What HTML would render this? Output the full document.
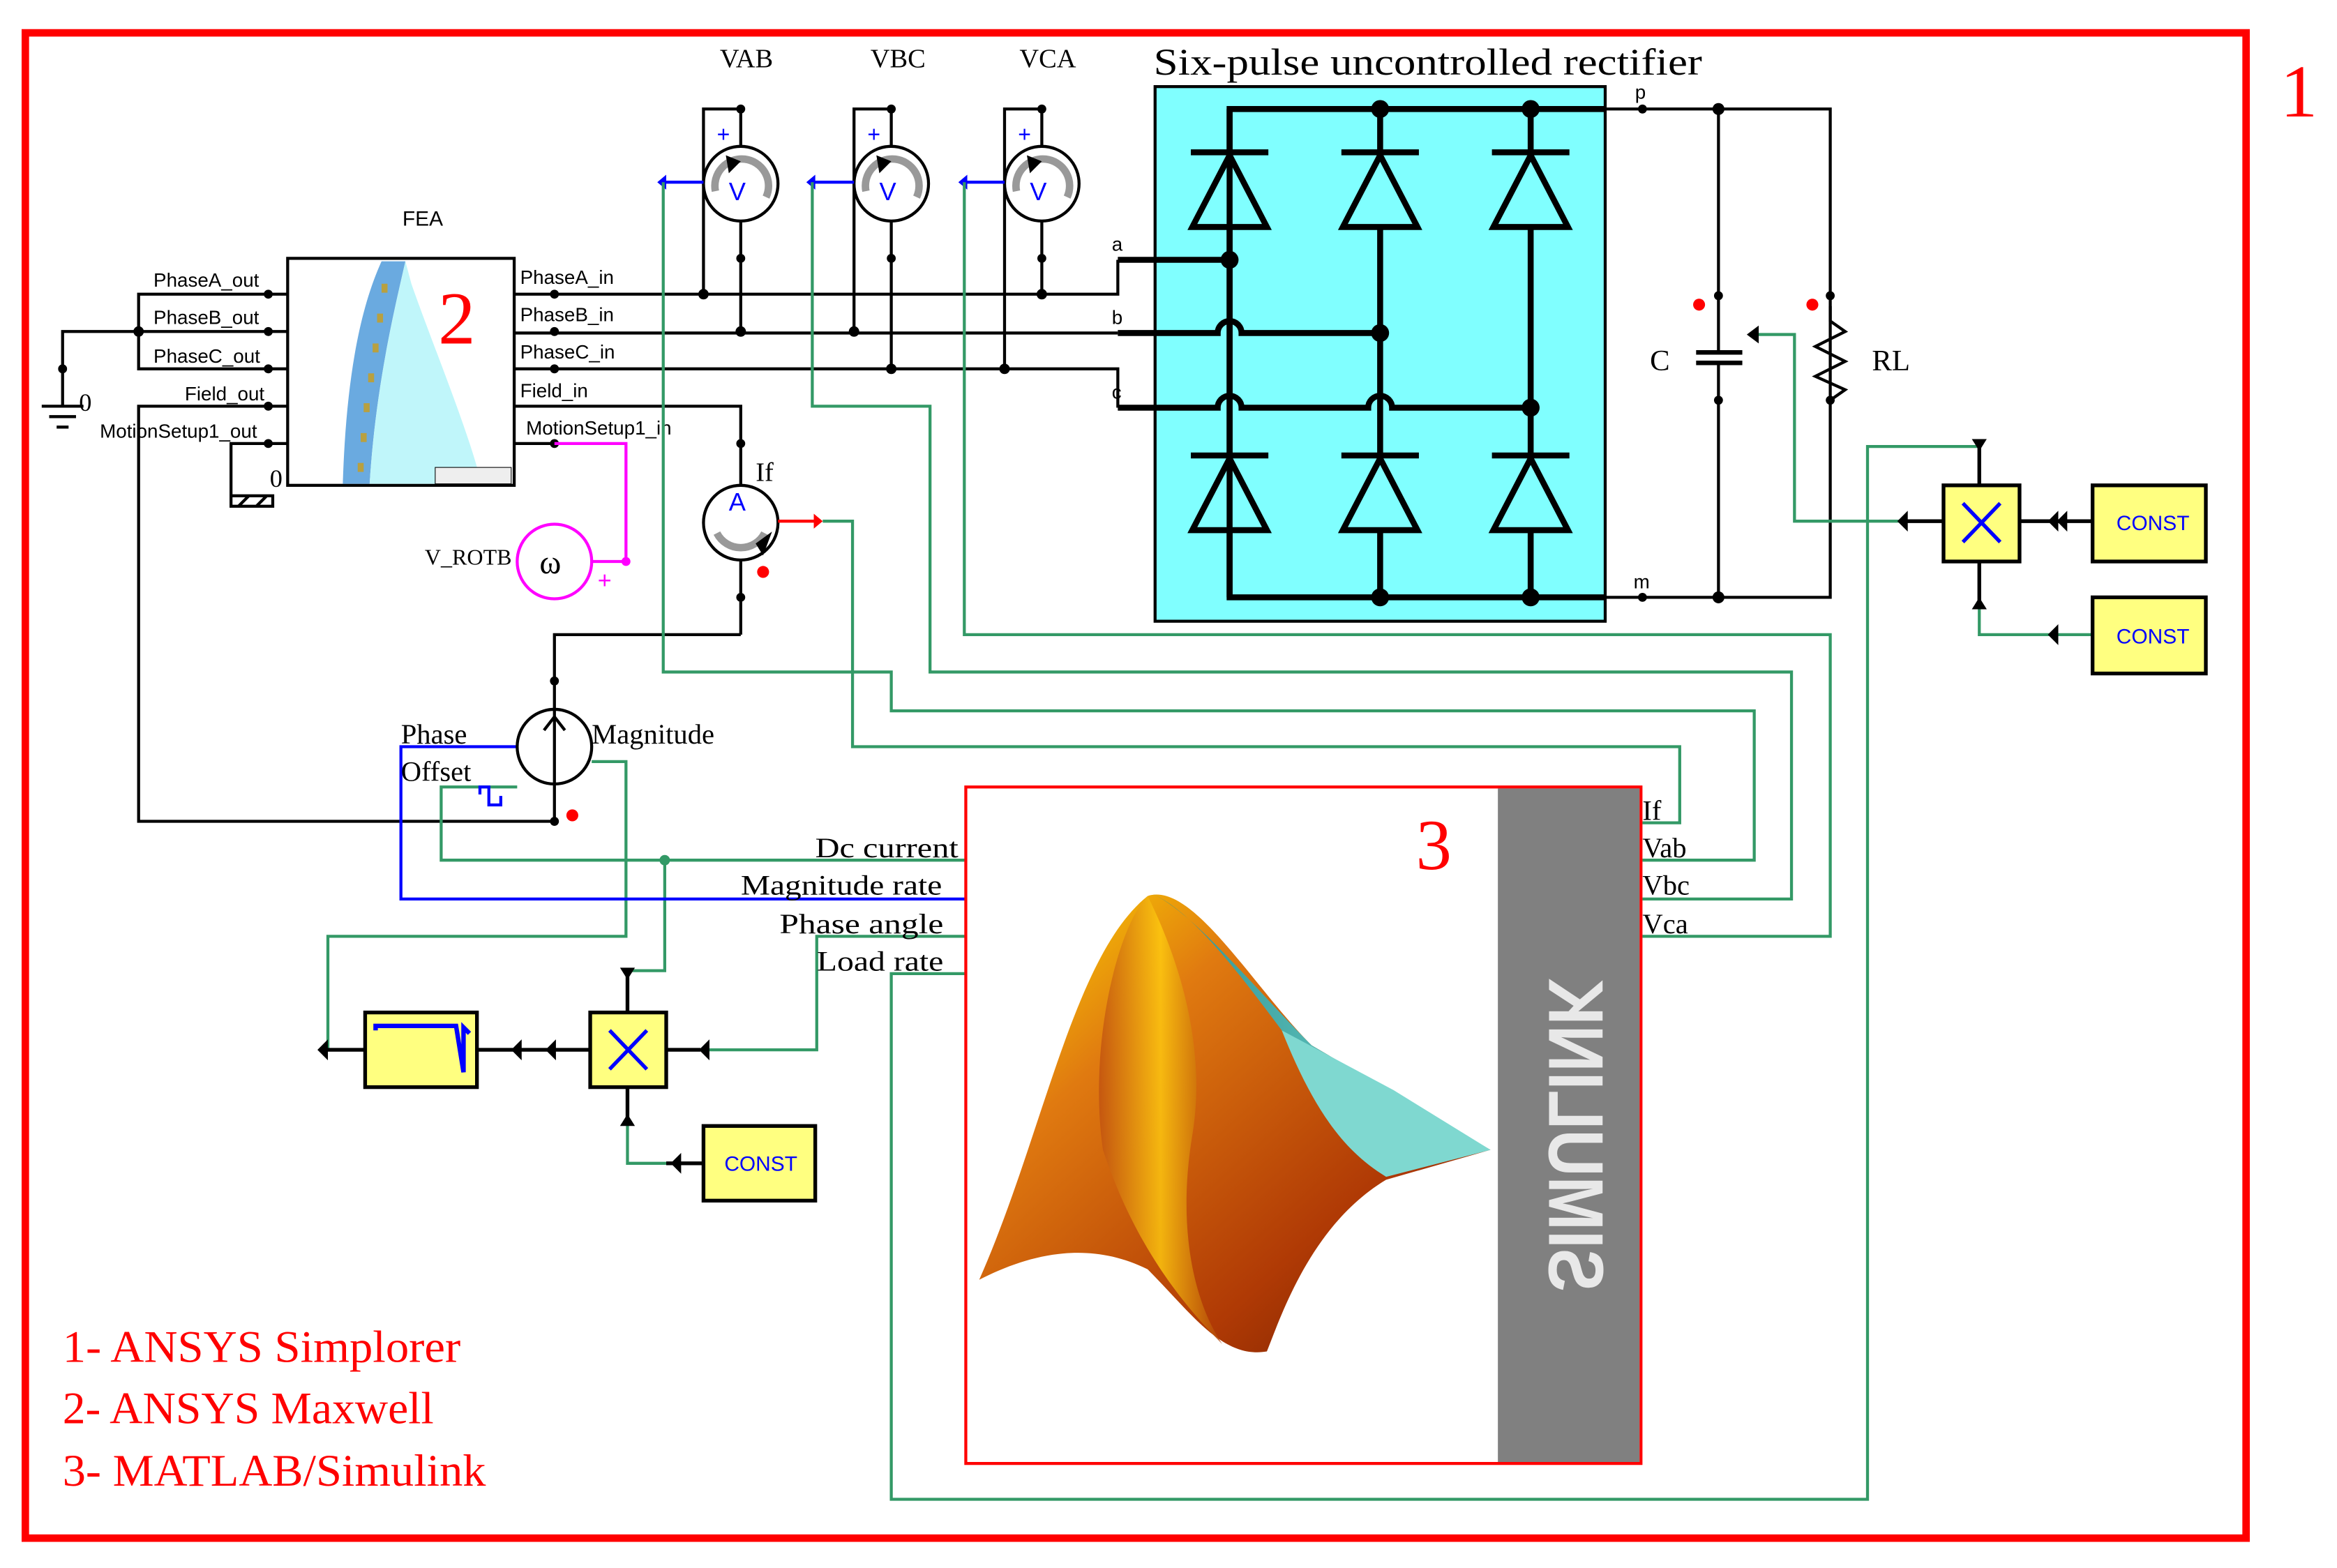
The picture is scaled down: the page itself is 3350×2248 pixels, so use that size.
<!DOCTYPE html>
<html><head><meta charset="utf-8"><style>
html,body{margin:0;padding:0;background:#fff;}
svg{display:block}
.s{font-family:"Liberation Serif",serif}
.a{font-family:"Liberation Sans",sans-serif}
</style></head><body>
<svg width="3350" height="2248" viewBox="0 0 1568 1050" preserveAspectRatio="none" xmlns="http://www.w3.org/2000/svg">
<defs>
<linearGradient id="mg" x1="0" y1="0" x2="1" y2="1">
<stop offset="0" stop-color="#ffe000"/><stop offset="0.3" stop-color="#e07a10"/><stop offset="0.7" stop-color="#b03a05"/><stop offset="1" stop-color="#6a1a00"/>
</linearGradient>
<linearGradient id="mg2" x1="0" y1="0" x2="1" y2="0">
<stop offset="0" stop-color="#c05010"/><stop offset="0.5" stop-color="#ffcc10"/><stop offset="1" stop-color="#b04008"/>
</linearGradient>
<linearGradient id="tg" x1="0" y1="0" x2="1" y2="0">
<stop offset="0" stop-color="#2a8f8f"/><stop offset="1" stop-color="#7fe0d8"/>
</linearGradient>
</defs>
<rect width="1568" height="1050" fill="#fff"/>
<rect x="17" y="22" width="1490" height="1008" fill="none" stroke="#ff0000" stroke-width="5"/>
<text x="1530" y="78" class="s" font-size="50" fill="#ff0000">1</text>

<!-- rectifier -->
<rect x="775" y="58" width="302" height="358" fill="#80ffff" stroke="#000" stroke-width="2"/>
<text x="774" y="50" class="s" font-size="25" textLength="368" lengthAdjust="spacingAndGlyphs">Six-pulse uncontrolled rectifier</text>
<g stroke="#000" stroke-width="4" fill="none">
<polyline points="1077,73 825,73 825,400 1077,400"/>
<line x1="926" y1="73" x2="926" y2="400"/>
<line x1="1027" y1="73" x2="1027" y2="400"/>
<line x1="750" y1="174" x2="825" y2="174"/>
<path d="M750,223 H817 a8,8 0 0 1 16,0 H926"/>
<path d="M750,273 H817 a8,8 0 0 1 16,0 H918 a8,8 0 0 1 16,0 H1027"/>
<g id="d">
<line x1="799" y1="102" x2="851" y2="102"/>
<polygon points="825,104 800,152 850,152" fill="#80ffff"/>
</g>
<use href="#d" x="101"/><use href="#d" x="202"/>
<use href="#d" y="203"/><use href="#d" x="101" y="203"/><use href="#d" x="202" y="203"/>
</g>
<polyline points="1077,73 1228,73 1228,400 1077,400" fill="none" stroke="#000" stroke-width="2"/>
<line x1="825" y1="73" x2="825" y2="400" stroke="#000" stroke-width="4"/>
<g fill="#000">
<circle cx="926" cy="73" r="6"/><circle cx="1027" cy="73" r="6"/><circle cx="926" cy="400" r="6"/><circle cx="1027" cy="400" r="6"/>
<circle cx="825" cy="174" r="6"/><circle cx="926" cy="223" r="6"/><circle cx="1027" cy="273" r="6"/>
<circle cx="1153" cy="73" r="4"/><circle cx="1153" cy="400" r="4"/><circle cx="1102" cy="73" r="3"/><circle cx="1102" cy="400" r="3"/>
<circle cx="1153" cy="198" r="3"/><circle cx="1153" cy="268" r="3"/><circle cx="1228" cy="198" r="3"/><circle cx="1228" cy="268" r="3"/>
</g>
<text x="1097" y="66" class="a" font-size="13">p</text>
<text x="1096" y="394" class="a" font-size="13">m</text>
<text x="746" y="168" class="a" font-size="13">a</text>
<text x="746" y="217" class="a" font-size="13">b</text>
<text x="746" y="267" class="a" font-size="13">c</text>
<!-- capacitor & resistor -->
<g stroke="#000" stroke-width="2" fill="none">
<line x1="1153" y1="73" x2="1153" y2="236"/><line x1="1153" y1="243" x2="1153" y2="400"/>
<line x1="1138" y1="236" x2="1169" y2="236" stroke-width="3"/><line x1="1138" y1="243" x2="1169" y2="243" stroke-width="3"/>
<polyline points="1228,205 1228,215 1238,222 1218,232 1238,242 1218,252 1238,261 1228,268"/>
</g>
<circle cx="1140" cy="204" r="4" fill="#f00"/><circle cx="1216" cy="204" r="4" fill="#f00"/>
<text x="1107" y="248" class="s" font-size="20">C</text>
<text x="1256" y="248" class="s" font-size="20">RL</text>

<!-- phase lines -->
<g stroke="#000" stroke-width="2" fill="none">
<polyline points="345,197 750,197 750,174"/>
<line x1="345" y1="223" x2="750" y2="223"/>
<polyline points="345,247 750,247 750,273"/>
<polyline points="345,272 497,272 497,325"/>
<line x1="497" y1="375" x2="497" y2="425"/>
<polyline points="497,425 372,425 372,475"/>
<line x1="372" y1="525" x2="372" y2="550"/>
<polyline points="193,272 93,272 93,550 372,550"/>
<polyline points="193,197 93,197 93,247 193,247"/>
<line x1="93" y1="222" x2="193" y2="222"/>
<polyline points="93,222 42,222 42,272"/>
<line x1="28" y1="272" x2="56" y2="272"/><line x1="33" y1="279" x2="51" y2="279"/><line x1="38" y1="286" x2="46" y2="286"/>
<polyline points="193,297 155,297 155,332"/>
<rect x="155" y="332" width="28" height="7"/>
<line x1="160" y1="339" x2="167" y2="332"/><line x1="172" y1="339" x2="179" y2="332"/>
<line x1="345" y1="297" x2="372" y2="297"/>
<polyline points="472,197 472,73 497,73 497,98"/><line x1="497" y1="148" x2="497" y2="222"/>
<polyline points="573,222 573,73 598,73 598,98"/><line x1="598" y1="148" x2="598" y2="247"/>
<polyline points="674,247 674,73 699,73 699,98"/><line x1="699" y1="148" x2="699" y2="197"/>
</g>
<g fill="#000">
<circle cx="93" cy="222" r="3.5"/><circle cx="42" cy="247" r="3"/>
<circle cx="180" cy="197" r="3"/><circle cx="180" cy="222" r="3"/><circle cx="180" cy="247" r="3"/><circle cx="180" cy="272" r="3"/><circle cx="180" cy="297" r="3"/>
<circle cx="372" cy="197" r="3"/><circle cx="372" cy="222" r="3"/><circle cx="372" cy="247" r="3"/><circle cx="372" cy="297" r="3"/>
<circle cx="472" cy="197" r="3.5"/><circle cx="497" cy="222" r="3.5"/><circle cx="573" cy="222" r="3.5"/><circle cx="598" cy="247" r="3.5"/><circle cx="674" cy="247" r="3.5"/><circle cx="699" cy="197" r="3.5"/>
<circle cx="497" cy="73" r="3"/><circle cx="598" cy="73" r="3"/><circle cx="699" cy="73" r="3"/>
<circle cx="497" cy="173" r="3"/><circle cx="598" cy="173" r="3"/><circle cx="699" cy="173" r="3"/>
<circle cx="497" cy="297" r="3"/><circle cx="497" cy="400" r="3"/><circle cx="372" cy="456" r="3"/><circle cx="372" cy="550" r="3"/>
</g>
<text x="53" y="275" class="s" font-size="17">0</text>
<text x="181" y="326" class="s" font-size="17">0</text>

<!-- FEA block -->
<text x="270" y="151" class="a" font-size="14">FEA</text>
<rect x="193" y="173" width="152" height="152" fill="#fff" stroke="#000" stroke-width="2"/>
<path d="M256,175 L272,175 C264,210 252,260 248,324 L230,324 C232,260 240,210 256,175Z" fill="#6aaae0"/>
<path d="M272,175 L276,190 C290,230 315,290 323,324 L248,324 C252,260 264,210 272,175Z" fill="#c0f6fa"/>
<g fill="#b8a040"><rect x="256" y="190" width="4" height="6"/><rect x="253" y="210" width="4" height="6"/><rect x="250" y="230" width="4" height="6"/><rect x="247" y="250" width="4" height="6"/><rect x="244" y="270" width="4" height="6"/><rect x="242" y="290" width="4" height="6"/><rect x="240" y="310" width="4" height="6"/></g>
<text x="294" y="230" class="s" font-size="50" fill="#ff0000">2</text>
<rect x="292" y="313" width="51" height="11" fill="#eee" stroke="#000" stroke-width="0.5"/>
<g class="a" font-size="13">
<text x="103" y="192">PhaseA_out</text><text x="103" y="217">PhaseB_out</text><text x="103" y="243">PhaseC_out</text>
<text x="124" y="268">Field_out</text><text x="67" y="293">MotionSetup1_out</text>
<text x="349" y="190">PhaseA_in</text><text x="349" y="215">PhaseB_in</text><text x="349" y="240">PhaseC_in</text>
<text x="349" y="266">Field_in</text><text x="353" y="291">MotionSetup1_in</text>
</g>
<!-- V_ROTB -->
<polyline points="372,297 420,297 420,376 397,376" fill="none" stroke="#ff00ff" stroke-width="2"/>
<circle cx="420" cy="376" r="3" fill="#ff00ff"/>
<circle cx="372" cy="376" r="25" fill="#fff" stroke="#ff00ff" stroke-width="2"/>
<text x="362" y="384" class="s" font-size="22">ω</text>
<text x="401" y="394" class="a" font-size="16" fill="#ff00ff">+</text>
<text x="285" y="378" class="s" font-size="15">V_ROTB</text>

<!-- meters -->
<g id="vm">
<circle cx="497" cy="123" r="25" fill="#fff" stroke="#000" stroke-width="2"/>
<path d="M480,128 A18,18 0 1 1 514,132" fill="none" stroke="#999" stroke-width="5"/>
<polygon points="487,104 497,108 489,116" fill="#000"/>
<text x="489" y="134" class="a" font-size="17" fill="#00f">V</text>
<text x="481" y="95" class="a" font-size="15" fill="#00f">+</text>
</g>
<use href="#vm" x="101"/><use href="#vm" x="202"/>
<g stroke="#00f" stroke-width="2"><line x1="445" y1="122" x2="472" y2="122"/><line x1="545" y1="122" x2="573" y2="122"/><line x1="647" y1="122" x2="674" y2="122"/></g>
<g fill="#00f"><polygon points="441,122 447,117 447,127"/><polygon points="541,122 547,117 547,127"/><polygon points="643,122 649,117 649,127"/></g>
<text x="483" y="45" class="s" font-size="18">VAB</text><text x="584" y="45" class="s" font-size="18">VBC</text><text x="684" y="45" class="s" font-size="18">VCA</text>
<!-- ammeter -->
<circle cx="497" cy="350" r="25" fill="#fff" stroke="#000" stroke-width="2"/>
<path d="M481,357 A18,18 0 0 0 513,357" fill="none" stroke="#999" stroke-width="5"/>
<polygon points="507,364 518,356 512,372" fill="#000"/>
<text x="489" y="342" class="a" font-size="17" fill="#00f">A</text>
<text x="507" y="322" class="s" font-size="18">If</text>
<circle cx="512" cy="383" r="4" fill="#f00"/>
<line x1="522" y1="349" x2="550" y2="349" stroke="#f00" stroke-width="2"/>
<polygon points="552,349 546,344 546,354" fill="#f00"/>

<!-- green wires -->
<g stroke="#339966" stroke-width="2" fill="none">
<polyline points="445,122 445,450 598,450 598,476 1177,476 1177,576 1102,576"/>
<polyline points="545,122 545,272 624,272 624,450 1202,450 1202,602 1102,602"/>
<polyline points="647,122 647,425 1228,425 1228,627 1102,627"/>
<polyline points="552,349 572,349 572,500 1127,500 1127,551 1102,551"/>
<polyline points="648,576 296,576 296,527 347,527"/>
<polyline points="446,576 446,650 421,650"/>
<polyline points="397,510 420,510 420,627 220,627 220,703"/>
<polyline points="648,627 548,627 548,703 470,703"/>
<polyline points="648,652 598,652 598,1004 1253,1004 1253,299 1328,299"/>
<polyline points="1304,349 1204,349 1204,224 1178,224"/>
<polyline points="1404,425 1328,425 1328,402"/>
<polyline points="1404,349 1378,349"/>
<line x1="345" y1="703" x2="370" y2="703"/>
<polyline points="421,752 421,779 472,779"/>
</g>
<circle cx="446" cy="576" r="3.5" fill="#339966"/>
<polyline points="648,602 269,602 269,500 347,500" fill="none" stroke="#0000ff" stroke-width="2"/>
<path d="M322,532 v-5 h6 v12 h8 v-6" fill="none" stroke="#00f" stroke-width="2"/>
<!-- current source -->
<circle cx="372" cy="500" r="25" fill="#fff" stroke="#000" stroke-width="2"/>
<line x1="372" y1="475" x2="372" y2="525" stroke="#000" stroke-width="2"/>
<polyline points="365,489 372,480 379,489" fill="none" stroke="#000" stroke-width="2"/>
<circle cx="384" cy="546" r="4" fill="#f00"/>
<text x="269" y="498" class="s" font-size="19">Phase</text>
<text x="269" y="523" class="s" font-size="19">Offset</text>
<text x="397" y="498" class="s" font-size="19">Magnitude</text>

<!-- bottom-left blocks -->
<g stroke="#000" stroke-width="2.5">
<line x1="215" y1="703" x2="245" y2="703"/><line x1="320" y1="703" x2="396" y2="703"/>
<line x1="447" y1="703" x2="470" y2="703"/>
<line x1="421" y1="650" x2="421" y2="678"/><line x1="421" y1="728" x2="421" y2="752"/>
<line x1="447" y1="779" x2="472" y2="779"/>
<line x1="1355" y1="349" x2="1404" y2="349"/><line x1="1328" y1="299" x2="1328" y2="325"/><line x1="1328" y1="376" x2="1328" y2="402"/>
<line x1="1275" y1="349" x2="1304" y2="349"/>
</g>
<g fill="#000">
<polygon points="213,703 220,696 220,710"/><polygon points="343,703 350,696 350,710"/><polygon points="366,703 373,696 373,710"/>
<polygon points="469,703 476,696 476,710"/><polygon points="421,656 416,648 426,648"/><polygon points="421,746 416,754 426,754"/>
<polygon points="450,779 457,772 457,786"/>
<polygon points="1273,349 1280,342 1280,356"/><polygon points="1374,349 1381,342 1381,356"/><polygon points="1380,349 1387,342 1387,356"/>
<polygon points="1328,302 1323,294 1333,294"/><polygon points="1328,400 1323,408 1333,408"/>
<polygon points="1374,425 1381,418 1381,432"/><polygon points="1172,224 1180,218 1180,230"/>
</g>
<g stroke="#000" stroke-width="2.5" fill="#ffff80">
<rect x="245" y="678" width="75" height="50"/>
<rect x="396" y="678" width="51" height="50"/>
<rect x="472" y="754" width="75" height="50"/>
<rect x="1304" y="325" width="51" height="51"/>
<rect x="1404" y="325" width="76" height="51"/>
<rect x="1404" y="400" width="76" height="51"/>
</g>
<polyline points="252,690 252,687 306,687 311,718 311,688 315,692" fill="none" stroke="#00f" stroke-width="3"/>
<g stroke="#00f" stroke-width="2.5"><line x1="409" y1="690" x2="434" y2="716"/><line x1="434" y1="690" x2="409" y2="716"/>
<line x1="1317" y1="337" x2="1342" y2="363"/><line x1="1342" y1="337" x2="1317" y2="363"/></g>
<g class="a" font-size="14" fill="#00f"><text x="486" y="784">CONST</text><text x="1420" y="355">CONST</text><text x="1420" y="431">CONST</text></g>

<!-- MATLAB block -->
<rect x="648" y="527" width="453" height="453" fill="#fff" stroke="#ff0000" stroke-width="2"/>
<rect x="1005" y="528" width="95" height="451" fill="#808080"/>
<text x="950" y="582" class="s" font-size="48" fill="#ff0000">3</text>
<text transform="translate(1053,760) rotate(-90) scale(1,-1)" x="0" y="0" text-anchor="middle" dominant-baseline="middle" class="a" font-size="52" font-weight="bold" fill="#e8e8e8" textLength="210" lengthAdjust="spacingAndGlyphs">SIMULINK</text>
<path d="M657,857 C700,760 720,640 770,600 C800,590 840,660 880,700 L1000,770 L930,790 C880,820 860,880 850,905 C820,910 800,880 770,850 C730,830 690,840 657,857Z" fill="url(#mg)"/>
<path d="M770,600 C790,640 810,700 800,760 C790,820 800,870 820,900 C790,870 760,830 740,770 C730,700 750,620 770,600Z" fill="url(#mg2)" opacity="0.8"/>
<path d="M772,598 C800,610 840,660 880,700 L1000,770 L930,788 C900,760 870,700 860,690 C830,650 800,610 772,598Z" fill="url(#tg)"/>
<path d="M860,690 L935,730 L1000,770 L930,788 C900,770 880,740 860,690Z" fill="#7fd8d0"/>
<g class="s" font-size="19">
<text x="547" y="574" textLength="96" lengthAdjust="spacingAndGlyphs">Dc current</text>
<text x="497" y="599" textLength="135" lengthAdjust="spacingAndGlyphs">Magnitude rate</text>
<text x="523" y="625" textLength="110" lengthAdjust="spacingAndGlyphs">Phase angle</text>
<text x="548" y="650" textLength="85" lengthAdjust="spacingAndGlyphs">Load rate</text>
<text x="1102" y="549">If</text><text x="1102" y="574">Vab</text><text x="1102" y="599">Vbc</text><text x="1102" y="625">Vca</text>
</g>
<g class="s" font-size="30" fill="#ff0000">
<text x="42" y="912" textLength="267" lengthAdjust="spacingAndGlyphs">1- ANSYS Simplorer</text>
<text x="42" y="953" textLength="249" lengthAdjust="spacingAndGlyphs">2- ANSYS Maxwell</text>
<text x="42" y="995" textLength="284" lengthAdjust="spacingAndGlyphs">3- MATLAB/Simulink</text>
</g>
</svg>
</body></html>
